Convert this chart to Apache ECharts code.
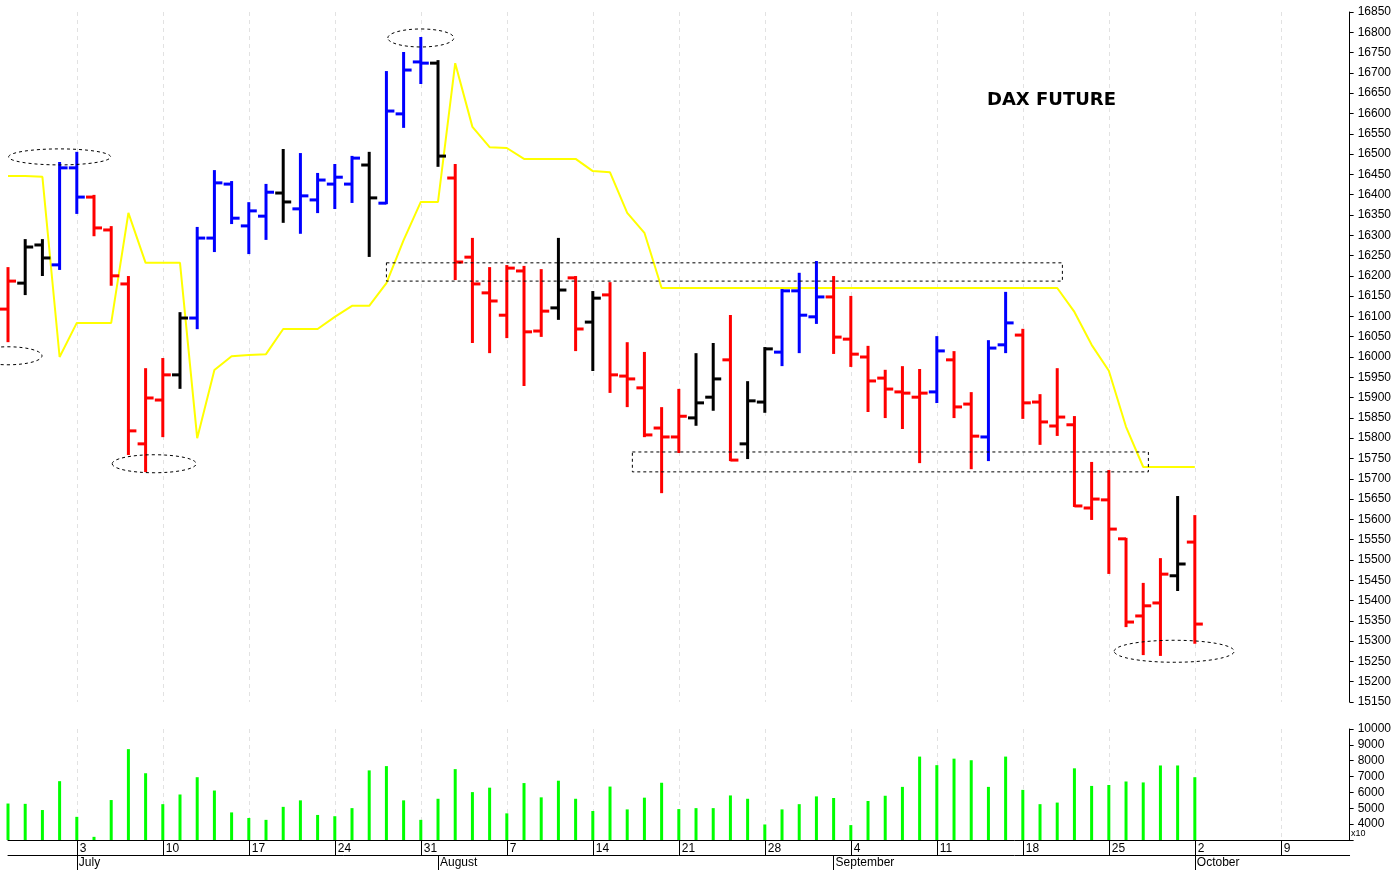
<!DOCTYPE html>
<html lang="en">
<head>
<meta charset="UTF-8">
<title>DAX FUTURE</title>
<style>
    body{ margin:0; background:#ffffff; }
    #chart{ width:1394px; height:870px; }
</style>
</head>
<body>
<div id="chart"></div>
<script src="https://cdn.jsdelivr.net/npm/echarts@6/dist/echarts.min.js"></script>
<script>
// trading days, Jun 27 .. Oct 2, then empty days to the right edge
var dates = ['06-27','06-28','06-29','06-30',
    '07-03','07-04','07-05','07-06','07-07','07-10','07-11','07-12','07-13','07-14',
    '07-17','07-18','07-19','07-20','07-21','07-24','07-25','07-26','07-27','07-28',
    '07-31','08-01','08-02','08-03','08-04','08-07','08-08','08-09','08-10','08-11',
    '08-14','08-15','08-16','08-17','08-18','08-21','08-22','08-23','08-24','08-25',
    '08-28','08-29','08-30','08-31','09-01','09-04','09-05','09-06','09-07','09-08',
    '09-11','09-12','09-13','09-14','09-15','09-18','09-19','09-20','09-21','09-22',
    '09-25','09-26','09-27','09-28','09-29','10-02',
    '10-03','10-04','10-05','10-06','10-09','10-10','10-11','10-12','10-13'];
var mondays = ['07-03','07-10','07-17','07-24','07-31','08-07','08-14','08-21','08-28',
    '09-04','09-11','09-18','09-25','10-02','10-09'];
var monthStarts = {'07-03':'July','08-01':'August','09-01':'September','10-02':'October'};

var opens  = [16118,16182,16276,16227,16466,16394,16313,16180,15786,15894,15956,16096,16293,16426,
    16323,16347,16404,16365,16387,16426,16426,16473,16379,16599,16727,16724,16441,16246,16158,
    16103,16212,16064,16121,16195,16086,16153,15953,15924,15825,15803,15850,15901,15993,15786,
    15889,16012,16163,16099,16148,16044,16000,15948,15914,15901,15914,15993,15884,15803,16030,
    16054,15889,15830,15833,15628,15648,15552,15362,15394,15461,15544];
var highs  = [16219,16288,16288,16478,16503,16397,16320,16197,15970,15995,16108,16318,16458,16431,
    16379,16424,16510,16500,16451,16473,16493,16503,16702,16749,16786,16729,16473,16291,16219,
    16224,16222,16214,16291,16197,16160,16182,16034,16010,15874,15919,16007,16032,16101,15938,
    16022,16165,16205,16234,16197,16148,16025,15966,15975,15968,16049,16012,15911,16039,16158,
    16067,15906,15970,15852,15739,15719,15552,15441,15502,15655,15608];
var lows   = [16039,16155,16202,16217,16355,16300,16178,15761,15719,15805,15924,16071,16261,16330,
    16256,16291,16333,16306,16357,16367,16382,16249,16379,16567,16675,16471,16192,16037,16012,
    16049,15931,16052,16094,16017,15968,15914,15879,15805,15667,15766,15833,15870,15746,15751,
    15865,15980,16012,16084,16010,15978,15867,15852,15825,15741,15889,15852,15726,15746,16012,
    15850,15786,15808,15633,15601,15468,15337,15268,15266,15426,15296];
var closes = [16187,16271,16244,16466,16394,16318,16200,15818,15899,15956,16096,16293,16429,16342,
    16360,16406,16382,16397,16436,16443,16490,16392,16606,16707,16724,16495,16234,16180,16138,
    16219,16062,16113,16165,16069,16145,15956,15946,15808,15803,15854,15887,15946,15746,15892,
    16020,16163,16103,16148,16049,16007,15941,15921,15911,15911,16015,15877,15805,16022,16084,
    15887,15840,15852,15633,15650,15576,15347,15387,15465,15490,15342];
// bar colour code: b = blue, r = red, k = black
var barCodes = ['r','k','k','b','b','r','r','r','r','r','k','b','b','b',
    'b','b','k','b','b','b','b','k','b','b','b','k','r','r','r',
    'r','r','r','k','r','k','r','r','r','r','r','k','k','r','k',
    'k','b','b','b','r','r','r','r','r','r','b','r','r','b','b',
    'r','r','r','r','r','r','r','r','r','k','r'];
var stopLine = [16446,16446,16444,16000,16084,16084,16084,16355,16232,16232,16232,15800,15968,16002,
    16005,16007,16069,16069,16069,16099,16126,16126,16182,16288,16382,16382,16724,16567,16517,
    16515,16488,16488,16488,16488,16458,16455,16355,16306,16170,
    16170,16170,16170,16170,16170,16170,16170,16170,16170,16170,16170,16170,16170,16170,16170,
    16170,16170,16170,16170,16170,16170,16170,16170,16111,16030,15966,15828,15729,15729,15729,15729];
var volumes = [5300,5280,4890,6710,4460,3200,5520,8730,7210,5260,5870,6960,6120,4740,
    4390,4270,5090,5500,4580,4500,5010,7390,7660,5500,4270,5600,7470,6020,6300,
    4680,6590,5690,6740,5600,4830,6370,4930,5670,6610,4950,5010,5010,5810,5600,
    3980,4930,5260,5750,5650,3940,5460,5790,6350,8260,7720,8130,8030,6350,8260,
    6160,5260,5360,7520,6410,6470,6690,6630,7700,7700,6960];

var codeColors = {b:'#0000ff', r:'#ff0000', k:'#000000'};

var ohlcData = [];
for (var i = 0; i < opens.length; i++) {
    ohlcData.push({value:[i, opens[i], closes[i], lows[i], highs[i]], itemStyle:{color:codeColors[barCodes[i]]}});
}

var chart = echarts.init(document.getElementById('chart'));
var labelFont = {fontFamily:'Liberation Sans', fontSize:12, color:'#000'};
var mondayFn = function (idx, val) { return mondays.indexOf(val) >= 0; };
var monthFn = function (idx, val) { return monthStarts[val] !== undefined; };

function renderOhlc(params, api) {
    var i = api.value(0);
    var o = api.coord([i, api.value(1)]);
    var c = api.coord([i, api.value(2)]);
    var l = api.coord([i, api.value(3)]);
    var h = api.coord([i, api.value(4)]);
    var col = api.visual('color');
    var st = {stroke:col, lineWidth:3};
    return {type:'group', children:[
        {type:'line', shape:{x1:h[0], y1:h[1]-1, x2:l[0], y2:l[1]+1}, style:st},
        {type:'line', shape:{x1:o[0]-8, y1:o[1], x2:o[0], y2:o[1]}, style:st},
        {type:'line', shape:{x1:c[0], y1:c[1], x2:c[0]+8, y2:c[1]}, style:st}
    ]};
}

var option = {
    animation:false,
    backgroundColor:'#ffffff',
    title:{text:'DAX FUTURE', left:982, top:86, textStyle:{fontFamily:'DejaVu Sans', fontWeight:'bold', fontSize:18, color:'#000'}},
    grid:[
        {left:8, right:44, top:12, bottom:168},
        {left:8, right:44, top:729, bottom:30}
    ],
    xAxis:[
        {type:'category', gridIndex:0, data:dates, boundaryGap:false,
            axisLine:{show:false}, axisTick:{show:false}, axisLabel:{show:false},
            splitLine:{show:true, interval:mondayFn, lineStyle:{color:'#e2e2e2', type:[4,4]}}},
        {type:'category', gridIndex:1, data:dates, boundaryGap:false, position:'bottom',
            axisLine:{show:true, lineStyle:{color:'#000'}},
            axisTick:{show:true, interval:mondayFn, length:15, inside:false, lineStyle:{color:'#000'}},
            axisLabel:Object.assign({interval:mondayFn, align:'left', margin:3, padding:[0,0,0,3],
                formatter:function (v) { return String(parseInt(v.slice(3), 10)); }}, labelFont),
            splitLine:{show:true, interval:mondayFn, lineStyle:{color:'#e2e2e2', type:[4,4]}}},
        {type:'category', gridIndex:1, data:dates, boundaryGap:false, position:'bottom', offset:15,
            axisLine:{show:true, lineStyle:{color:'#000'}},
            axisTick:{show:true, interval:monthFn, length:15, lineStyle:{color:'#000'}},
            axisLabel:Object.assign({interval:monthFn, align:'left', margin:2, padding:[0,0,0,2],
                formatter:function (v) { return monthStarts[v] || ''; }}, labelFont),
            splitLine:{show:false}}
    ],
    yAxis:[
        {type:'value', gridIndex:0, position:'right', min:15150, max:16850, interval:50,
            axisLine:{show:true, lineStyle:{color:'#000'}},
            axisTick:{show:true, length:4, lineStyle:{color:'#000'}},
            axisLabel:Object.assign({margin:8, formatter:function (v) { return String(v); }}, labelFont),
            splitLine:{show:false}},
        {type:'value', gridIndex:1, position:'right', min:3000, max:10000, interval:1000,
            axisLine:{show:true, lineStyle:{color:'#000'}},
            axisTick:{show:true, length:4, lineStyle:{color:'#000'}},
            axisLabel:Object.assign({margin:8, formatter:function (v) { return v < 4000 ? '' : String(v); }}, labelFont),
            splitLine:{show:false}}
    ],
    series:[
        {type:'line', xAxisIndex:0, yAxisIndex:0, data:stopLine, symbol:'none',
            lineStyle:{color:'#ffff00', width:2}, z:1},
        {type:'custom', xAxisIndex:0, yAxisIndex:0, renderItem:renderOhlc, data:ohlcData,
            encode:{x:0, y:[1,2,3,4]}, z:2},
        {type:'bar', xAxisIndex:1, yAxisIndex:1, data:volumes, barWidth:3,
            itemStyle:{color:'#00ff00'}}
    ]
};
chart.setOption(option);

// annotations anchored to data positions
function px(idx, price) {
    var a = Math.floor(idx), f = idx - a;
    var p1 = chart.convertToPixel({xAxisIndex:0, yAxisIndex:0}, [a, price]);
    var p2 = chart.convertToPixel({xAxisIndex:0, yAxisIndex:0}, [a + 1, price]);
    return [p1[0] + (p2[0] - p1[0]) * f, p1[1]];
}
var dash = {stroke:'#000', fill:null, lineWidth:1, lineDash:[3,3]};
var ellipses = [[3,16493,51,8],[0,16003,34,9],[8.5,15737,42,9],[24,16786,33,9],[67.8,15275,60,11]];
var rects = [[22,16232,61.3,16187],[36.3,15766,66.3,15717]];
var graphics = [];
ellipses.forEach(function (e) {
    var c = px(e[0], e[1]);
    graphics.push({type:'ellipse', shape:{cx:c[0], cy:c[1], rx:e[2], ry:e[3]}, style:dash, z:10});
});
rects.forEach(function (r) {
    var a = px(r[0], r[1]), b = px(r[2], r[3]);
    graphics.push({type:'rect', shape:{x:a[0], y:a[1], width:b[0]-a[0], height:b[1]-a[1]}, style:dash, z:10});
});
graphics.push({type:'text', left:1351, top:829, style:{text:'x10', fontSize:9, fontFamily:'Liberation Sans', fill:'#000'}});
chart.setOption({graphic:graphics});
</script>
</body>
</html>
